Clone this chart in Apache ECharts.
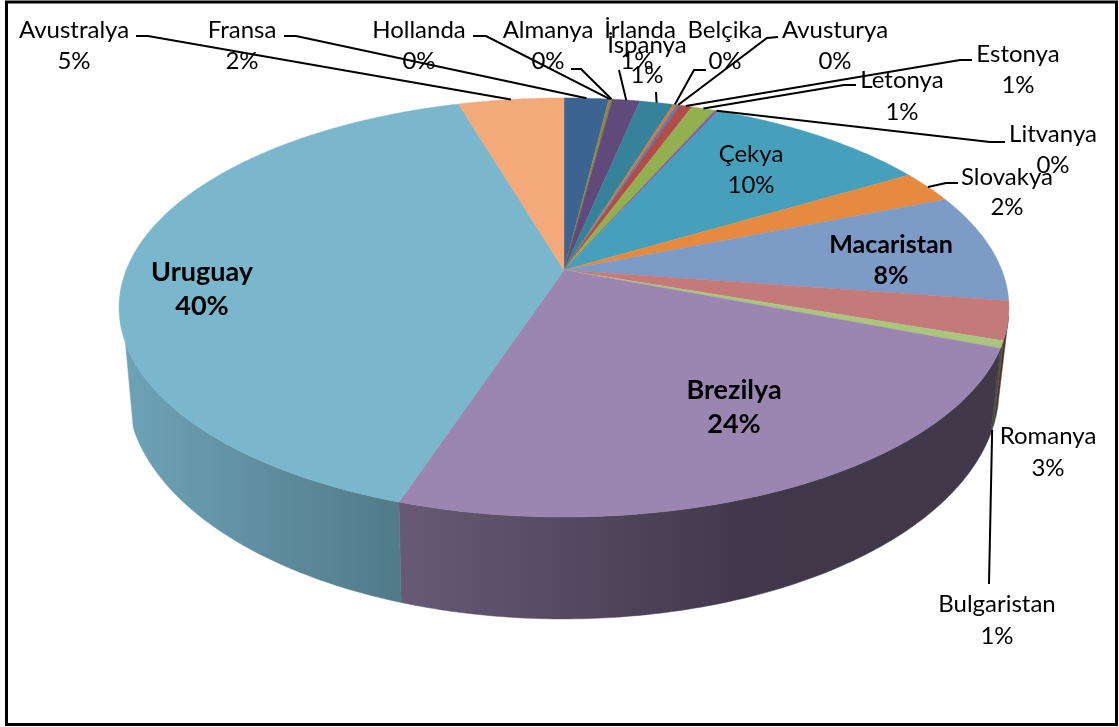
<!DOCTYPE html>
<html><head><meta charset="utf-8">
<style>html,body{margin:0;padding:0;background:#fff}#c{width:1119px;height:727px}</style>
<script src="https://cdn.jsdelivr.net/npm/echarts@6/dist/echarts.min.js"></script>
</head><body><div id="c"></div>
<script>
// Data, clockwise from 12 o'clock
const names = ['Fransa','Hollanda','Almanya','İrlanda','İspanya','Belçika','Avusturya','Estonya','Letonya','Litvanya','Çekya','Slovakya','Macaristan','Romanya','Bulgaristan','Brezilya','Uruguay','Avustralya'];
const shares = [1.93,0.08,0.07,1.19,1.45,0.15,0.13,0.55,1.02,0.16,9.75,2.49,8.4,2.98,0.55,24.2,40.4,4.56];
const colors = ['#3b6491','#8a8a3c','#7f7f40','#5f4a7b','#36829a','#d9782e','#4f81bd','#b04d4a','#92b050','#7b62a0','#46a0bb','#e58a3f','#7c9bc7','#c47a78','#a9c57e','#9a86b0','#7ab6cc','#f4a97a'];
const boldSizes = {'Macaristan':25,'Brezilya':27,'Uruguay':27};

// Label layout: [centre x, line-1 y, line-2 y, value centre x]
const labelPos = {
 'Avustralya':[74,30,61],'Fransa':[242,30,61],'Hollanda':[419,30,61],'Almanya':[548,30,61],
 'İrlanda':[640,30,61,637],'İspanya':[647,45,75],'Belçika':[725,30,61],'Avusturya':[835,30,61],
 'Estonya':[1018,54,85],'Letonya':[902,80,112],'Litvanya':[1053,134,165],'Slovakya':[1007,177,207],
 'Macaristan':[891,245,276],'Çekya':[751,154,185],'Uruguay':[202,272,306],'Brezilya':[734,390,424],
 'Romanya':[1048,436,468],'Bulgaristan':[997,604,636]
};
// Leader start / elbow points (the end is computed from the slice's mid angle)
const leaderPts = {
 'Avustralya':[[136,36],[148,36]],'Fransa':[[284,36],[296,36]],'Hollanda':[[473,36],[486,36]],
 'Almanya':[[571,69],[581,69]],'İrlanda':[[619,70]],'İspanya':[[656,92]],
 'Belçika':[[706,70],[694,70]],'Avusturya':[[778,37],[767,38]],'Estonya':[[972,60],[960,60]],
 'Letonya':[[856,85],[844,85]],'Litvanya':[[1005,142],[990,142]],'Slovakya':[[958,183],[946,183]],
 'Bulgaristan':[[989,584]]
};

// Perspective projection of the pie discs
const TOP = {cx:564, cy:270, a:437.8, b:202.8, k:0.179};
const BASE = {cx:563, cy:347.8, a:429, b:222.6, k:0.179};
const WALL_FROM = Math.PI*0.57, WALL_TO = Math.PI*1.39;
const total = shares.reduce((s,v)=>s+v,0);
function cum(i){let s=0;for(let j=0;j<i;j++)s+=shares[j];return s/total*Math.PI*2;}
function proj(d,t){const w=1+d.k*Math.cos(t);return [d.cx+d.a*Math.sin(t)/w,d.cy-d.b*Math.cos(t)/w];}
function arc(d,t0,t1){const n=Math.max(2,Math.ceil((t1-t0)/0.01));const p=[];for(let i=0;i<=n;i++)p.push(proj(d,t0+(t1-t0)*i/n));return p;}
function hex(c){return [1,3,5].map(i=>parseInt(c.substr(i,2),16));}
function shade(x){const xs=[120,400,750,1010],ss=[.9,.67,.42,.42];
 for(let i=1;i<xs.length;i++)if(x<=xs[i]){const f=(x-xs[i-1])/(xs[i]-xs[i-1]);return ss[i-1]+(ss[i]-ss[i-1])*Math.max(0,f);}return .42;}
function wallFill(c){const rgb=hex(c),stops=[];for(let x=120;x<=1010;x+=89){const s=shade(x);
 stops.push({offset:(x-120)/890,color:'rgb('+rgb.map(v=>Math.round(v*s)).join(',')+')'});}
 return new echarts.graphic.LinearGradient(120,0,1010,0,stops,true);}

const chart = echarts.init(document.getElementById('c'),null,{renderer:'canvas'});
const data = shares.map((v,i)=>({name:names[i],value:[i,v]}));

const wallSeries = {type:'custom',coordinateSystem:'none',silent:true,animation:false,data,z:1,
 renderItem:function(p,api){const i=api.value(0);const t0=cum(i),t1=t0+api.value(1)/total*Math.PI*2;
  const a=Math.max(t0,WALL_FROM),b=Math.min(t1,WALL_TO);
  if(b<=a)return null;
  const pts=arc(TOP,a,b).concat(arc(BASE,a,b).reverse());
  const f=wallFill(colors[i]);
  return {type:'polygon',shape:{points:pts},style:{fill:f,stroke:f,lineWidth:.5}};}};

const topSeries = {type:'custom',coordinateSystem:'none',silent:true,animation:false,data,z:2,
 renderItem:function(p,api){const i=api.value(0);const t0=cum(i),t1=t0+api.value(1)/total*Math.PI*2;
  const pts=[[TOP.cx,TOP.cy]].concat(arc(TOP,t0,t1));
  return {type:'polygon',shape:{points:pts},style:{fill:colors[i],stroke:colors[i],lineWidth:.4}};}};

const labelSeries = {type:'custom',coordinateSystem:'none',silent:true,animation:false,data,z:3,
 renderItem:function(p,api){const i=api.value(0),name=names[i];const t0=cum(i),t1=t0+api.value(1)/total*Math.PI*2,mid=(t0+t1)/2;
  const pos=labelPos[name],kids=[];const bs=boldSizes[name];
  const font=(bs?'bold '+bs:'24')+'px Lato, "Noto Sans", sans-serif';
  const pct=Math.round(api.value(1)/total*100)+'%';
  if(leaderPts[name]){const end=name==='Bulgaristan'?proj(BASE,mid):proj(TOP,mid);
   kids.push({type:'polyline',shape:{points:leaderPts[name].concat([end])},style:{fill:'none',stroke:'#000',lineWidth:2}});}
  kids.push({type:'text',style:{text:name,x:pos[0],y:pos[1],align:'center',verticalAlign:'middle',font,fill:'#000'}});
  kids.push({type:'text',style:{text:pct,x:pos[3]||pos[0],y:pos[2],align:'center',verticalAlign:'middle',font,fill:'#000'}});
  return {type:'group',children:kids};}};

chart.setOption({backgroundColor:'#fff',animation:false,
 graphic:[{type:'rect',z:100,silent:true,shape:{x:6.5,y:2,width:1110,height:722.5},style:{fill:'none',stroke:'#000',lineWidth:3}}],
 series:[wallSeries,topSeries,labelSeries]});
</script></body></html>
